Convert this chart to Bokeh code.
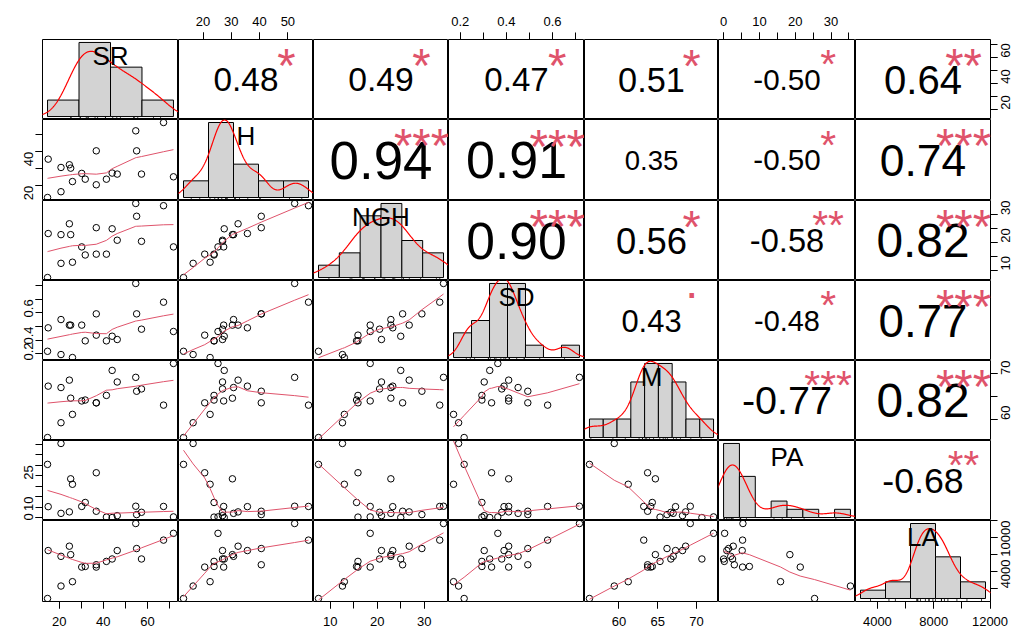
import math
import numpy as np
from bokeh.plotting import figure
from bokeh.layouts import gridplot
from bokeh.models import Range1d, LinearAxis, FixedTicker
from bokeh.core.properties import value
from bokeh.embed import file_html
from bokeh.resources import INLINE

# ---------------- data ----------------
VAR_NAMES = ["SR", "H", "NGH", "SD", "M", "PA", "LA"]
SR = [14.7, 15.0, 20.8, 20.8, 24.6, 25.2, 26.0, 30.2, 31.8, 36.8, 36.8, 41.4, 44.0, 46.3, 54.7, 55.1, 57.3, 67.3, 71.8]
H = [13.1, 35.7, 16.5, 30.8, 32.4, 30.4, 22.5, 27.3, 23.9, 40.6, 20.6, 23.9, 27.5, 26.9, 52.4, 40.6, 26.9, 57.3, 25.3]
NGH = [7.5, 23.3, 12.6, 22.9, 26.8, 22.9, 13.0, 18.5, 15.6, 25.4, 15.9, 15.9, 25.0, 20.9, 34.1, 29.5, 20.5, 33.3, 18.5]
SD = [0.217, 0.39, 0.193, 0.451, 0.41, 0.41, 0.171, 0.41, 0.294, 0.493, 0.336, 0.294, 0.328, 0.304, 0.717, 0.493, 0.38, 0.579, 0.363]
M = [56.2, 67.3, 59.4, 67.0, 68.6, 64.7, 61.2, 64.1, 64.3, 63.7, 63.7, 65.3, 70.7, 68.2, 69.2, 66.2, 66.7, 63.2, 72.2]
PA = [25.4, 5.2, 35.4, 2.0, 2.7, 18.5, 15.9, 5.3, 7.2, 3.0, 21.4, 0.2, 0.0, 0.9, 5.4, 1.4, 2.5, 5.3, 0.3]
LA = [2800, 8476, 4276, 7792, 8992, 7996, 4792, 6520, 6592, 6796, 6520, 7192, 7480, 8476, 11680, 8716, 7480, 9712, 10516]
VARS = [SR, H, NGH, SD, M, PA, LA]

# histogram breaks per variable
BREAKS_SR = [0, 20, 40, 60, 80]
BREAKS_H = [10, 20, 30, 40, 50, 60]
BREAKS_NGH = [5, 10, 15, 20, 25, 30, 35]
BREAKS_SD = [0.1, 0.2, 0.3, 0.4, 0.5, 0.6, 0.7, 0.8]
BREAKS_M = [56, 58, 60, 62, 64, 66, 68, 70, 72, 74]
BREAKS_PA = [0, 5, 10, 15, 20, 25, 30, 35, 40]
BREAKS_LA = [2000, 4000, 6000, 8000, 10000, 12000]
BREAKS = [BREAKS_SR, BREAKS_H, BREAKS_NGH, BREAKS_SD, BREAKS_M, BREAKS_PA, BREAKS_LA]

# correlation coefficients and significance (upper triangle)
COR_TXT = {
    (0, 1): "0.48", (0, 2): "0.49", (0, 3): "0.47", (0, 4): "0.51", (0, 5): "-0.50", (0, 6): "0.64",
    (1, 2): "0.94", (1, 3): "0.91", (1, 4): "0.35", (1, 5): "-0.50", (1, 6): "0.74",
    (2, 3): "0.90", (2, 4): "0.56", (2, 5): "-0.58", (2, 6): "0.82",
    (3, 4): "0.43", (3, 5): "-0.48", (3, 6): "0.77",
    (4, 5): "-0.77", (4, 6): "0.82",
    (5, 6): "-0.68",
}
COR_SIG = {
    (0, 1): "*", (0, 2): "*", (0, 3): "*", (0, 4): "*", (0, 5): "*", (0, 6): "**",
    (1, 2): "***", (1, 3): "***", (1, 4): "", (1, 5): "*", (1, 6): "***",
    (2, 3): "***", (2, 4): "*", (2, 5): "**", (2, 6): "***",
    (3, 4): ".", (3, 5): "*", (3, 6): "***",
    (4, 5): "***", (4, 6): "***",
    (5, 6): "**",
}

# outer axes: (all ticks, labelled ticks)
TOP_AXES = {1: ([20, 30, 40, 50], [20, 30, 40, 50]),
            3: ([0.2, 0.3, 0.4, 0.5, 0.6, 0.7], [0.2, 0.4, 0.6]),
            5: ([0, 5, 10, 15, 20, 25, 30, 35], [0, 10, 20, 30])}
BOTTOM_AXES = {0: ([20, 30, 40, 50, 60, 70], [20, 40, 60]),
               2: ([10, 15, 20, 25, 30], [10, 20, 30]),
               4: ([60, 65, 70], [60, 65, 70]),
               6: ([4000, 6000, 8000, 10000, 12000], [4000, 8000, 12000])}
LEFT_AXES = {1: ([20, 30, 40, 50], [20, 40]),
             3: ([0.2, 0.3, 0.4, 0.5, 0.6, 0.7], [0.2, 0.4, 0.6]),
             5: ([0, 5, 10, 15, 20, 25, 30, 35], [0, 10, 25])}
RIGHT_AXES = {0: ([20, 30, 40, 50, 60, 70], [20, 40, 60]),
              2: ([10, 15, 20, 25, 30], [10, 20, 30]),
              4: ([60, 65, 70], [60, 70]),
              6: ([4000, 6000, 8000, 10000, 12000], [4000, 10000])}

# ---------------- layout / style ----------------
CW = [136, 135, 135, 136, 134, 137, 135]
RH = [80, 81, 80, 80, 80, 80, 81]
BL, BR, BT, BB = 42, 31, 39, 31
FONT = "Liberation Sans"
SIG_COLOR = "#DF536B"
SMOOTH_COLOR = "#DF536B"
CHAR_W = {"0": .556, "1": .556, "2": .556, "3": .556, "4": .556, "5": .556, "6": .556,
          "7": .556, "8": .556, "9": .556, ".": .278, "-": .333}
LABEL_SIZE = 26
STAR_SCALE = 0.85


def padded(lo, hi):
    d = hi - lo
    return lo - 0.04 * d, hi + 0.04 * d


def lowess(x, y, f=2 / 3, nsteps=3):
    x = np.asarray(x, float)
    y = np.asarray(y, float)
    o = np.argsort(x, kind="mergesort")
    x, y = x[o], y[o]
    n = len(x)
    ns = max(2, min(n, int(f * n + 1e-7)))
    delta = 0.01 * (x[-1] - x[0])
    rw = np.ones(n)
    ys = np.zeros(n)
    rng = x[-1] - x[0]

    def lowest(xs, nleft, nright, userw):
        h = max(xs - x[nleft], x[nright] - xs)
        h9, h1 = .999 * h, .001 * h
        w = np.zeros(n)
        a = 0.0
        j = nleft
        while j < n:
            r = abs(x[j] - xs)
            if r <= h9:
                w[j] = 1.0 if r <= h1 else (1 - (r / h) ** 3) ** 3
                if userw:
                    w[j] *= rw[j]
                a += w[j]
            elif x[j] > xs:
                break
            j += 1
        nrt = j - 1
        if a <= 0:
            return None
        sl = slice(nleft, nrt + 1)
        w[sl] /= a
        if h > 0:
            aa = np.sum(w[sl] * x[sl])
            b = xs - aa
            c = np.sum(w[sl] * (x[sl] - aa) ** 2)
            if math.sqrt(c) > .001 * rng:
                b /= c
                w[sl] *= (b * (x[sl] - aa) + 1.0)
        return np.sum(w[sl] * y[sl])

    it = 1
    while it <= nsteps + 1:
        nleft, nright = 0, ns - 1
        last, i = -1, 0
        while True:
            if nright < n - 1:
                d1 = x[i] - x[nleft]
                d2 = x[nright + 1] - x[i]
                if d1 > d2:
                    nleft += 1
                    nright += 1
                    continue
            v = lowest(x[i], nleft, nright, it > 1)
            ys[i] = y[i] if v is None else v
            if last < i - 1:
                denom = x[i] - x[last]
                for jj in range(last + 1, i):
                    al = (x[jj] - x[last]) / denom
                    ys[jj] = al * ys[i] + (1 - al) * ys[last]
            last = i
            cut = x[last] + delta
            i = last + 1
            while i < n:
                if x[i] > cut:
                    break
                if x[i] == x[last]:
                    ys[i] = ys[last]
                    last = i
                i += 1
            i = max(last + 1, i - 1)
            if last >= n - 1:
                break
        res = y - ys
        sc = np.sum(np.abs(res)) / n
        if it > nsteps:
            break
        ar = np.sort(np.abs(res))
        m1 = n // 2
        if n % 2 == 0:
            cmad = 3 * (ar[m1] + ar[n - m1 - 1])
        else:
            cmad = 6 * ar[m1]
        if cmad < 1e-7 * sc:
            break
        c9, c1 = .999 * cmad, .001 * cmad
        r = np.abs(res)
        rw = np.where(r <= c1, 1.0, np.where(r <= c9, (1 - (r / cmad) ** 2) ** 2, 0.0))
        it += 1
    return x, ys


def density(x):
    x = np.asarray(x, float)
    n = len(x)
    sd = x.std(ddof=1)
    q75, q25 = np.percentile(x, [75, 25])
    lo = min(sd, (q75 - q25) / 1.34) if q75 > q25 else sd
    bw = 0.9 * lo * n ** -0.2
    g = np.linspace(x.min() - 3 * bw, x.max() + 3 * bw, 512)
    d = np.exp(-0.5 * ((g[:, None] - x[None, :]) / bw) ** 2).sum(1) / (n * bw * math.sqrt(2 * math.pi))
    return g, d


def hist_density(x, br):
    x = np.asarray(x, float)
    br = np.asarray(br, float)
    idx = np.searchsorted(br, x, side="left") - 1
    idx = np.clip(idx, 0, len(br) - 2)
    counts = np.bincount(idx, minlength=len(br) - 1)
    return counts / (len(x) * np.diff(br))


def style_axis(ax, side, ticks, labels):
    ax.ticker = FixedTicker(ticks=labels, minor_ticks=ticks)
    ax.bounds = (min(ticks), max(ticks))
    ax.axis_line_color = "black"
    ax.axis_line_width = 1
    ax.major_tick_line_color = "black"
    ax.minor_tick_line_color = "black"
    ax.major_tick_out = 7
    ax.major_tick_in = 0
    ax.minor_tick_out = 7
    ax.minor_tick_in = 0
    ax.major_label_text_font = FONT
    ax.major_label_text_font_size = "13px"
    ax.major_label_text_color = "black"
    if side in ("left", "right"):
        ax.major_label_orientation = math.pi / 2
        ax.major_label_standoff = 7 if side == "left" else 8
    else:
        ax.major_label_standoff = 8 if side == "below" else 7


n_obs = len(SR)
rows = []
for i in range(7):
    row = []
    for j in range(7):
        fw, fh = CW[j], RH[i]
        bl = BL if j == 0 else 0
        br = BR if j == 6 else 0
        bt = BT if i == 0 else 0
        bb = BB if i == 6 else 0
        xv = np.asarray(VARS[j], float)
        yv = np.asarray(VARS[i], float)
        if i == j:
            brk = BREAKS[i]
            dens = hist_density(VARS[i], brk)
            mx = dens.max()
            xr = Range1d(*padded(brk[0], brk[-1]))
            yr = Range1d(-0.04 * mx, 1.04 * mx)
        elif i > j:
            xr = Range1d(*padded(xv.min(), xv.max()))
            yr = Range1d(*padded(yv.min(), yv.max()))
        else:
            xr = Range1d(0, 1)
            yr = Range1d(0, 1)
        p = figure(width=fw + bl + br, height=fh + bt + bb, x_range=xr, y_range=yr,
                   output_backend="svg", toolbar_location=None,
                   x_axis_location=None, y_axis_location=None,
                   min_border=0, min_border_left=bl, min_border_right=br,
                   min_border_top=bt, min_border_bottom=bb,
                   background_fill_color="white", border_fill_color="white",
                   outline_line_color="black", outline_line_width=1)
        p.grid.visible = False
        p.extra_x_ranges = {"v": Range1d(*padded(xv.min(), xv.max())), "u": Range1d(0, 1)}
        p.extra_y_ranges = {"v": Range1d(*padded(yv.min(), yv.max())), "u": Range1d(0, 1)}

        if i == j:
            brk = BREAKS[i]
            p.quad(left=brk[:-1], right=brk[1:], bottom=0, top=dens,
                   fill_color="#D3D3D3", line_color="black", line_width=1)
            gx, gy = density(VARS[i])
            p.line(gx, gy, line_color="red", line_width=1.2)
            ylo = yr.start
            span = yr.end - yr.start
            p.segment(x0=VARS[i], y0=[ylo] * n_obs, x1=VARS[i], y1=[ylo + 0.03 * span] * n_obs,
                      line_color="black", line_width=0.8)
            p.text(x=[0.5], y=[0.8], text=[VAR_NAMES[i]], x_range_name="u", y_range_name="u",
                   text_font=value(FONT), text_font_size=value(f"{LABEL_SIZE}px"),
                   text_align="center", text_baseline="alphabetic",
                   y_offset=0, text_color="black")
        elif i > j:
            p.scatter(x=VARS[j], y=VARS[i], marker="circle", size=6.5, fill_color=None,
                      line_color="black", line_width=1)
            lx, ly = lowess(VARS[j], VARS[i])
            p.line(lx, ly, line_color=SMOOTH_COLOR, line_width=1)
        else:
            txt = COR_TXT[(i, j)]
            sig = COR_SIG[(i, j)]
            r = abs(float(txt))
            F = 0.8 * fw / sum(CHAR_W[c] for c in txt)
            size = F * (r + 0.3) / 1.3
            p.text(x=[0.5], y=[0.5], text=[txt], text_font=value(FONT),
                   text_font_size=value(f"{size:.1f}px"), text_align="center",
                   text_baseline="alphabetic", y_offset=0, text_color="black")
            if sig:
                fs = F * STAR_SCALE
                off = 0.217 * fs if "*" in sig else -0.308 * fs
                p.text(x=[0.8], y=[0.8], text=[sig], text_font=value(FONT),
                       text_font_size=value(f"{fs:.1f}px"), text_align="center",
                       text_baseline="alphabetic", y_offset=off, text_color=SIG_COLOR)

        if i == 0 and j in TOP_AXES:
            ax = LinearAxis(x_range_name="v")
            style_axis(ax, "above", *TOP_AXES[j])
            p.add_layout(ax, "above")
        if i == 6 and j in BOTTOM_AXES:
            ax = LinearAxis(x_range_name="v")
            style_axis(ax, "below", *BOTTOM_AXES[j])
            p.add_layout(ax, "below")
        if j == 0 and i in LEFT_AXES:
            ax = LinearAxis(y_range_name="v")
            style_axis(ax, "left", *LEFT_AXES[i])
            p.add_layout(ax, "left")
        if j == 6 and i in RIGHT_AXES:
            ax = LinearAxis(y_range_name="v")
            style_axis(ax, "right", *RIGHT_AXES[i])
            p.add_layout(ax, "right")
        row.append(p)
    rows.append(row)

grid = gridplot(rows, toolbar_location=None)
open("out.html", "w").write(file_html(grid, INLINE))
